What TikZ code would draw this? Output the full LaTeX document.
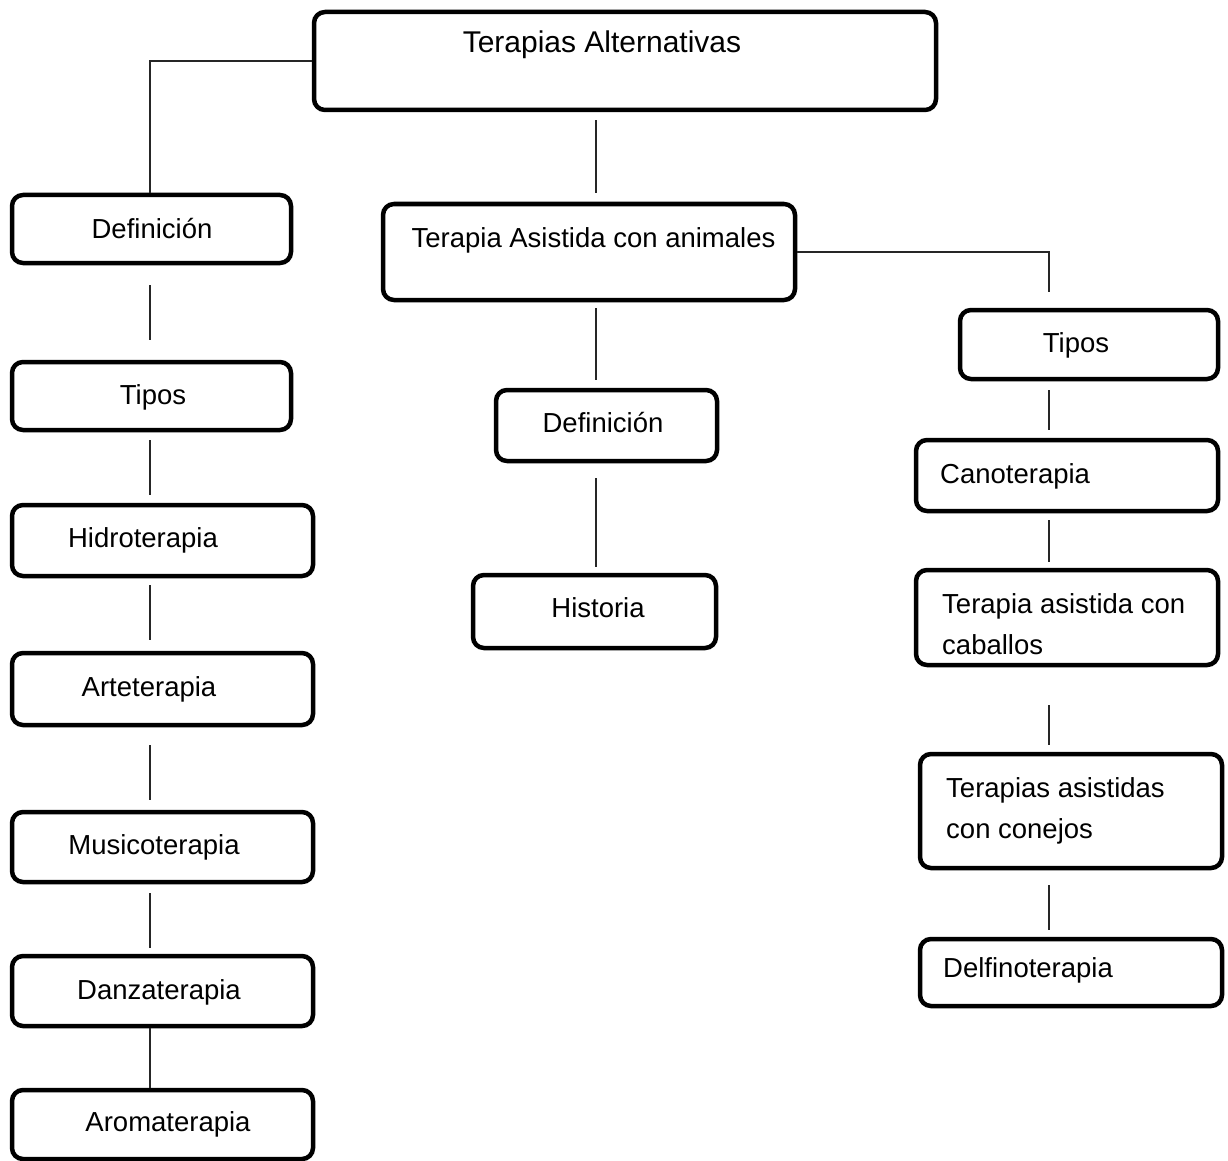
\documentclass[tikz,border=0pt]{standalone}
\usepackage{fontspec}
\setmainfont{Liberation Sans}
\usetikzlibrary{positioning, calc}

\begin{document}
\begin{tikzpicture}[
        x=1pt, y=-1pt,
        font=\fontsize{27.5}{41}\selectfont,
        % Estilo para las cajas redondeadas
        box/.style={
            draw=black,
            line width=4.5pt,
            rectangle,
            rounded corners=11pt,
            inner sep=0pt
        },
        % Estilo para los textos (centrados o alineados a la izquierda)
        txt/.style={anchor=base, inner sep=0pt},
        txtl/.style={anchor=base west, inner sep=0pt, align=left},
        % Estilo para los conectores
        link/.style={draw=black!85, line width=1.2pt}
    ]
    \useasboundingbox (0,0) rectangle (1228,1161);

    % 1. Nodo raiz
    \node[box, minimum width=622, minimum height=98] (alt) at (625,61) {};
    \node[txt, font=\fontsize{30}{41}\selectfont] (altT) at (602,53) {Terapias Alternativas};

    % 2. Columna izquierda
    \node[box, minimum width=279, minimum height=68] (defA) at (151.5,229) {};
    \node[txt] (defAT) at (152,238) {Definición};
    \node[box, minimum width=279, minimum height=68] (tiposA) at (151.5,396) {};
    \node[txt] (tiposAT) at (153,404) {Tipos};
    \node[box, minimum width=301, minimum height=71] (hidro) at (162.5,540.5) {};
    \node[txt] (hidroT) at (143,547) {Hidroterapia};
    \node[box, minimum width=301, minimum height=72] (arte) at (162.5,689) {};
    \node[txt] (arteT) at (149,696) {Arteterapia};
    \node[box, minimum width=301, minimum height=70] (musico) at (162.5,847) {};
    \node[txt] (musicoT) at (154,854) {Musicoterapia};
    \node[box, minimum width=301, minimum height=70] (danza) at (162.5,991) {};
    \node[txt] (danzaT) at (159,999) {Danzaterapia};
    \node[box, minimum width=301, minimum height=69] (aroma) at (162.5,1124.5) {};
    \node[txt] (aromaT) at (168,1131) {Aromaterapia};

    % 3. Columna central
    \node[box, minimum width=412, minimum height=96] (tac) at (589,252) {};
    \node[txt] (tacT) at (593.5,247) {Terapia Asistida con animales};
    \node[box, minimum width=221, minimum height=71] (defM) at (606.5,425.5) {};
    \node[txt] (defMT) at (603,432) {Definición};
    \node[box, minimum width=243, minimum height=73] (hist) at (594.5,611.5) {};
    \node[txt] (histT) at (598,617) {Historia};

    % 4. Columna derecha
    \node[box, minimum width=258, minimum height=69] (tiposR) at (1089,344.5) {};
    \node[txt] (tiposRT) at (1076,352) {Tipos};
    \node[box, minimum width=302, minimum height=71] (cano) at (1067,475.5) {};
    \node[txtl] (canoT) at (940,483) {Canoterapia};
    \node[box, minimum width=302, minimum height=95] (cab) at (1067,617.5) {};
    \node[txtl] (cabT) at (942,654) {Terapia asistida con\\caballos};
    \node[box, minimum width=302, minimum height=114] (conejo) at (1071,811) {};
    \node[txtl] (conejoT) at (946,838) {Terapias asistidas\\con conejos};
    \node[box, minimum width=302, minimum height=67] (delfin) at (1071,972.5) {};
    \node[txtl] (delfinT) at (943,977) {Delfinoterapia};

    % Ejes verticales de los conectores
    \coordinate (spineL) at (150,0);
    \coordinate (spineM) at (596,0);
    \coordinate (spineR) at (1049,0);

    % Conectores
    \draw[link] (alt.west) -| (defA.north -| spineL);
    \draw[link, shorten <=20, shorten >=20] (defA.south -| spineL) -- (tiposA.north -| spineL);
    \draw[link, shorten <=8, shorten >=8] (tiposA.south -| spineL) -- (hidro.north -| spineL);
    \draw[link, shorten <=7, shorten >=11] (hidro.south -| spineL) -- (arte.north -| spineL);
    \draw[link, shorten <=18, shorten >=10] (arte.south -| spineL) -- (musico.north -| spineL);
    \draw[link, shorten <=9, shorten >=6] (musico.south -| spineL) -- (danza.north -| spineL);
    \draw[link] (danza.south -| spineL) -- (aroma.north -| spineL);

    \draw[link, shorten <=8, shorten >=9] (alt.south -| spineM) -- (tac.north -| spineM);
    \draw[link, shorten <=6, shorten >=8] (tac.south -| spineM) -- (defM.north -| spineM);
    \draw[link, shorten <=15, shorten >=6] (defM.south -| spineM) -- (hist.north -| spineM);

    \draw[link, shorten >=16] (tac.east) -| (tiposR.north -| spineR);
    \draw[link, shorten <=9, shorten >=8] (tiposR.south -| spineR) -- (cano.north -| spineR);
    \draw[link, shorten <=7, shorten >=6] (cano.south -| spineR) -- (cab.north -| spineR);
    \draw[link, shorten <=38, shorten >=7] (cab.south -| spineR) -- (conejo.north -| spineR);
    \draw[link, shorten <=15, shorten >=7] (conejo.south -| spineR) -- (delfin.north -| spineR);

\end{tikzpicture}
\end{document}
